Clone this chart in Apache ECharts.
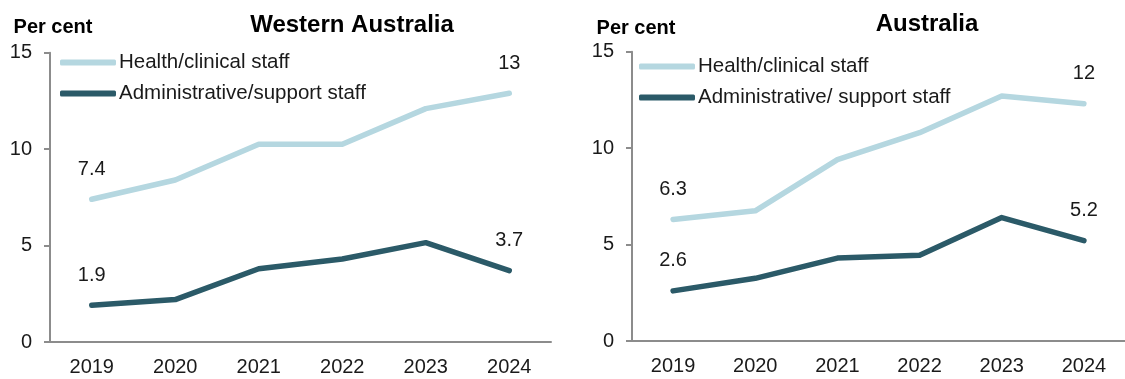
<!DOCTYPE html>
<html>
<head>
<meta charset="utf-8">
<script src="https://cdn.jsdelivr.net/npm/echarts@6/dist/echarts.min.js"></script>
<style>
  html, body { margin: 0; padding: 0; background: #ffffff; }
  #chart { width: 1125px; height: 379px; }
</style>
</head>
<body>
<div id="chart"></div>
<script>
// Share of staff (per cent), by year
const years = ['2019', '2020', '2021', '2022', '2023', '2024'];

const waHealth = [7.4, 8.4, 10.25, 10.25, 12.1, 12.9];
const waAdmin = [1.9, 2.2, 3.8, 4.3, 5.15, 3.7];

const ausHealth = [6.3, 6.75, 9.4, 10.8, 12.7, 12.3];
const ausAdmin = [2.6, 3.25, 4.3, 4.45, 6.4, 5.2];

const yTicks = { min: 0, max: 15, interval: 5 };

const FONT = "'Liberation Sans', Arial, sans-serif";
const TEXT = '#1a1a1a';
const AXIS = '#8c8c8c';
const LIGHT = '#b5d7e0';
const DARK = '#2b5a68';

// Labels on the first and last point only, two significant figures
function withEndLabels(values) {
  return values.map((v, i) => {
    const ends = i === 0 || i === values.length - 1;
    return {
      value: v,
      label: { show: ends }
    };
  });
}

function lineSeries(name, values, color, gridIdx) {
  return {
    type: 'line',
    name: name,
    xAxisIndex: gridIdx,
    yAxisIndex: gridIdx,
    data: withEndLabels(values),
    symbol: 'circle',
    symbolSize: 0,
    showSymbol: true,
    itemStyle: { color: color },
    lineStyle: { width: 5.5, color: color, cap: 'round', join: 'round' },
    label: {
      position: 'top',
      distance: 20,
      color: TEXT,
      fontFamily: FONT,
      fontSize: 20,
      formatter: p => String(Number(p.value.toPrecision(2)))
    },
    emphasis: { disabled: true },
    z: color === DARK ? 3 : 2
  };
}

function xAxis(gridIdx) {
  return {
    type: 'category',
    gridIndex: gridIdx,
    data: years,
    axisLine: { lineStyle: { color: AXIS, width: 2 } },
    axisTick: { show: false },
    axisLabel: { color: TEXT, fontFamily: FONT, fontSize: 20, margin: 15 }
  };
}

function yAxis(gridIdx) {
  return {
    type: 'value',
    gridIndex: gridIdx,
    min: yTicks.min,
    max: yTicks.max,
    interval: yTicks.interval,
    splitLine: { show: false },
    axisLine: { show: true, lineStyle: { color: AXIS, width: 2 } },
    axisTick: { show: true, length: 6, lineStyle: { color: AXIS, width: 2 } },
    axisLabel: { color: TEXT, fontFamily: FONT, fontSize: 20, margin: 18 }
  };
}

function legend(left, top, names) {
  return {
    orient: 'vertical',
    left: left,
    top: top,
    padding: 0,
    itemGap: 10,
    itemWidth: 56,
    itemHeight: 6,
    icon: 'roundRect',
    selectedMode: false,
    data: names,
    textStyle: { color: TEXT, fontFamily: FONT, fontSize: 20.5, padding: [0, 0, 0, -2] }
  };
}

function heading(text, x, y, size) {
  return {
    type: 'text',
    x: x,
    y: y,
    style: {
      text: text,
      fill: '#000000',
      font: 'bold ' + size + 'px ' + FONT,
      textAlign: 'center',
      textVerticalAlign: 'middle'
    }
  };
}

const chart = echarts.init(document.getElementById('chart'), null, { renderer: 'canvas' });

chart.setOption({
  animation: false,
  backgroundColor: '#ffffff',
  grid: [
    { left: 50, top: 52.7, width: 501, height: 289.3 },
    { left: 632, top: 51.7, width: 503, height: 289.3 }
  ],
  xAxis: [xAxis(0), xAxis(1)],
  yAxis: [yAxis(0), yAxis(1)],
  legend: [
    legend(60, 52, ['Health/clinical staff', 'Administrative/support staff']),
    legend(639, 56, ['Health/clinical staff', 'Administrative/ support staff'])
  ],
  graphic: [
    heading('Western Australia', 352, 25, 24),
    heading('Australia', 927, 24, 24),
    heading('Per cent', 53, 27, 20),
    heading('Per cent', 636, 28, 20)
  ],
  series: [
    lineSeries('Health/clinical staff', waHealth, LIGHT, 0),
    lineSeries('Administrative/support staff', waAdmin, DARK, 0),
    lineSeries('Health/clinical staff', ausHealth, LIGHT, 1),
    lineSeries('Administrative/ support staff', ausAdmin, DARK, 1)
  ]
});
</script>
</body>
</html>
